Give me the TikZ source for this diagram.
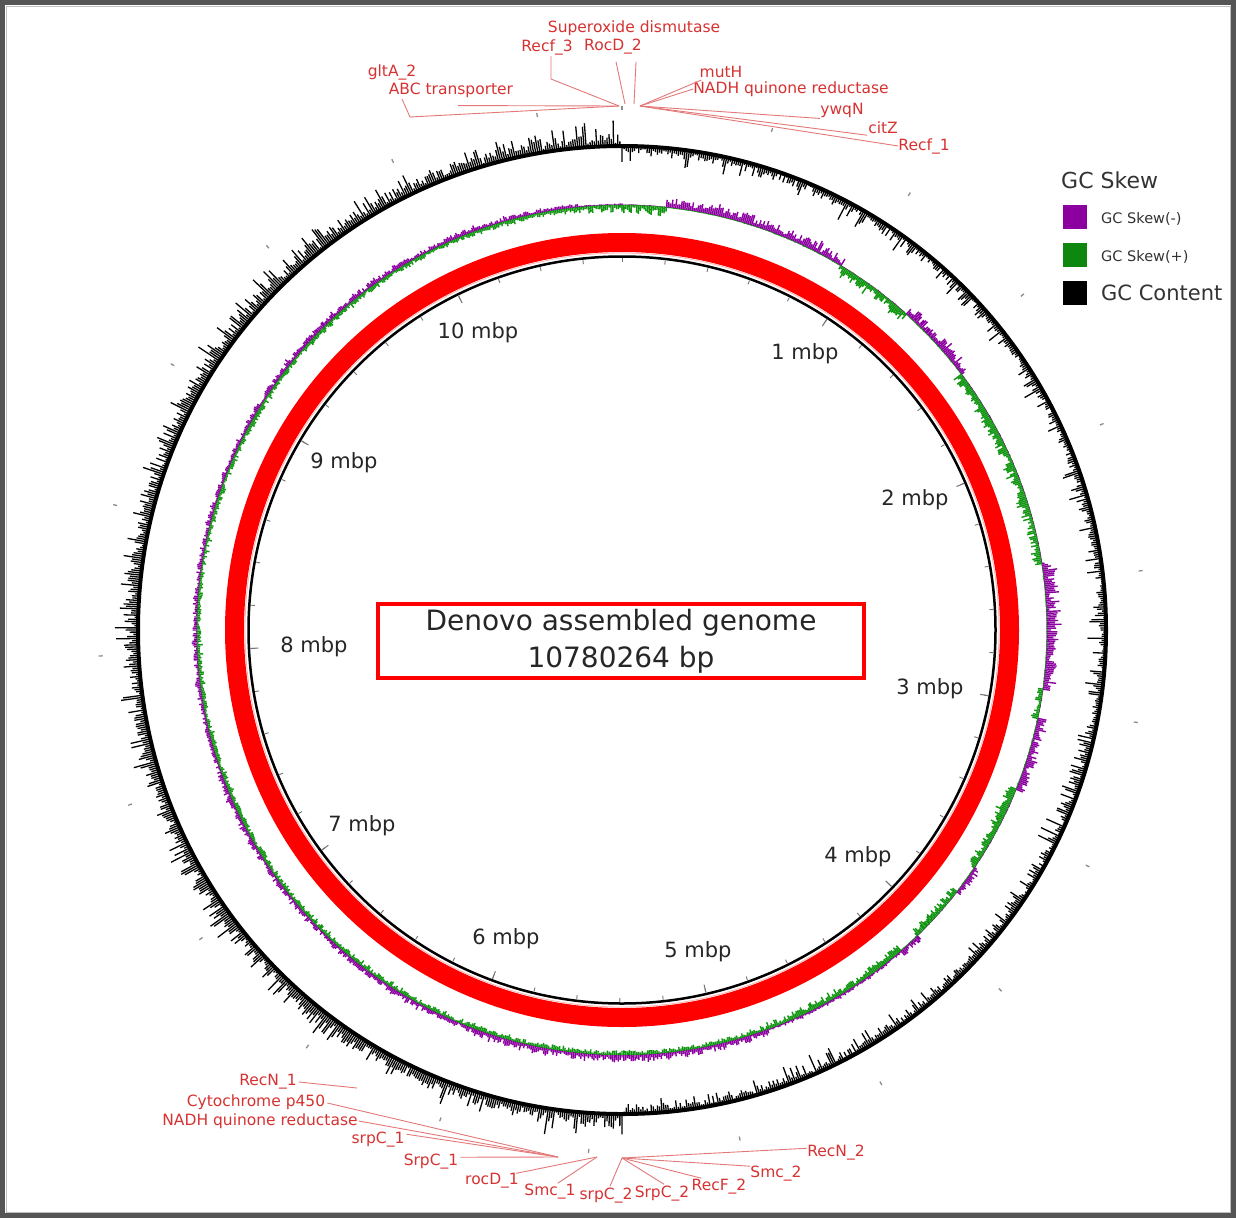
\documentclass[tikz,border=0pt]{standalone}
\usepackage{fontspec}
\setmainfont{DejaVu Sans}
\definecolor{skp}{RGB}{140,0,160}
\definecolor{skg}{RGB}{15,150,15}
\definecolor{lab}{RGB}{215,50,50}
\definecolor{leadc}{RGB}{228,120,120}
\definecolor{frm}{RGB}{85,85,85}
\begin{document}
\begin{tikzpicture}[x=1pt,y=-1pt,
  lbl/.style={font=\fontsize{15.5}{15.5}\selectfont, text=lab, inner sep=0pt},
  leadline/.style={draw=leadc, line width=0.9pt},
  mbp/.style={font=\fontsize{21}{21}\selectfont, text=black!85, inner sep=0pt},
  legsq/.style={minimum width=24pt, minimum height=24pt, inner sep=0pt},
  legtxt/.style={font=\fontsize{14.5}{14.5}\selectfont, text=black!80, inner sep=0pt, anchor=west}]
\useasboundingbox (0,0) rectangle (1236,1218);
\fill[white] (0,0) rectangle (1236,1218);
\draw[frm, line width=5pt] (2.5,2.5) rectangle (1233.5,1215.5);
\draw[black!25, line width=1pt] (6,6) rectangle (1230,1212);
\pgfmathsetseed{11}
\begin{scope}[shift={(622,630)}]
  % outer dots
  \foreach \k in {0,...,21}{
    \pgfmathsetmacro\aa{\k*0.5*33.394-90}
    \draw[black!45, line width=1.3pt] (\aa:520) -- (\aa:524);
  }
  % GC content
  \draw[black, line width=1.3pt] foreach \i [evaluate=\i as \a using {\i/4-90},
     evaluate=\i as \r using {484+(\i<720?-(2+5*rnd+14*rnd^5):(3+9*rnd+16*rnd^4))}] in {0,...,1439} {(\a:484) -- (\a:\r)};
  \draw[black, line width=4pt] (0,0) circle[radius=484];
  % GC skew
  \draw[skg, line width=0.8pt] (0,0) circle[radius=425];
  \foreach \sa/\sb/\pa/\ga in {0/6/1/12, 6/31/14/1, 31/42/1/13, 42/53/14/1, 53/81/1/13,
      81/98/16/1, 98/102/1/10, 102/112/13/1, 112/124/1/12, 124/128/10/1, 128/136/1/11,
      136/139/9/1, 139/160/4/10, 160/200/9/6, 200/250/7/6, 250/300/6/6, 300/340/7/6,
      340/354/6/7, 354/360/2/10}{
    \pgfmathtruncatemacro\nn{(\sb-\sa)/0.25}
    \draw[skp, line width=1.4pt] foreach \j [evaluate=\j as \a using {\sa+\j*0.25-90},
       evaluate=\j as \r using {425+\pa*(0.15+0.55*rnd+0.3*rnd^3)}] in {0,...,\nn} {(\a:425) -- (\a:\r)};
    \draw[skg, line width=1.4pt] foreach \j [evaluate=\j as \a using {\sa+\j*0.25-90},
       evaluate=\j as \r using {425-\ga*(0.15+0.55*rnd+0.3*rnd^3)}] in {0,...,\nn} {(\a:425) -- (\a:\r)};
  }
  % red feature ring
  \draw[red, line width=19pt] (0,0) circle[radius=387.5];
  \draw[red!30, line width=0.8pt] (0,0) circle[radius=377];
  \draw[black, line width=2.5pt] (0,0) circle[radius=373.5];
  % ticks
  \foreach \k in {0,...,53}{
    \pgfmathsetmacro\aa{\k*0.2*33.394-90}
    \draw[black!55, line width=0.9pt] (\aa:372) -- (\aa:368);
  }
  \foreach \k in {1,...,10}{
    \pgfmathsetmacro\aa{\k*33.394-90}
    \draw[black!55, line width=1pt] (\aa:372) -- (\aa:364);
  }
\end{scope}

% mbp labels
\node[mbp] (m1) at (805,354) {1 mbp};
\node[mbp] (m2) at (915,500) {2 mbp};
\node[mbp] (m3) at (930,689) {3 mbp};
\node[mbp] (m4) at (858,857) {4 mbp};
\node[mbp] (m5) at (698,952) {5 mbp};
\node[mbp] (m6) at (506,939) {6 mbp};
\node[mbp] (m7) at (362,826) {7 mbp};
\node[mbp] (m8) at (314,647) {8 mbp};
\node[mbp] (m9) at (344,463) {9 mbp};
\node[mbp] (m10) at (478,333) {10 mbp};

% center box
\node[draw=red, line width=4pt, fill=white, minimum width=486pt, minimum height=74pt, inner sep=0pt] (box) at (621,641) {};
\node[font=\fontsize{28}{28}\selectfont, text=black!85, inner sep=0pt] (t1) at (621,623) {Denovo assembled genome};
\node[font=\fontsize{28}{28}\selectfont, text=black!85, inner sep=0pt] (t2) at (621,660) {10780264 bp};

% legend
\node[font=\fontsize{22}{22}\selectfont, text=black!80, inner sep=0pt, anchor=west] (lt) at (1061,180) {GC Skew};
\node[legsq, fill=skp] (q1) at (1075,217) {};
\node[legsq, fill=skg!90!black] (q2) at (1075,255) {};
\node[legsq, fill=black] (q3) at (1075,293) {};
\node[legtxt] (l1) at (1101,219) {GC Skew(-)};
\node[legtxt] (l2) at (1101,257) {GC Skew(+)};
\node[legtxt, font=\fontsize{21}{21}\selectfont] (l3) at (1101,293) {GC Content};

% top annotation labels
\node[lbl] (sod) at (634,28) {Superoxide dismutase};
\node[lbl] (rf3) at (547,47) {Recf\_3};
\node[lbl] (rd2) at (613,47) {RocD\_2};
\node[lbl] (glt) at (392,72) {gltA\_2};
\node[lbl] (abc) at (451,90) {ABC transporter};
\node[lbl] (mut) at (721,72) {mutH};
\node[lbl] (nq1) at (791,89) {NADH quinone reductase};
\node[lbl] (ywq) at (842,110) {ywqN};
\node[lbl] (cit) at (883,128) {citZ};
\node[lbl] (rf1) at (924,146) {Recf\_1};

\coordinate (fTL) at (619,106);
\coordinate (fTM) at (625,104);
\coordinate (fTS) at (634,104);
\coordinate (fTR) at (640,106);
\coordinate (gb1) at (402,99);
\coordinate (gb2) at (410,117);
\coordinate (rb1) at (551,56);
\coordinate (rb2) at (551,79);
\draw[leadline] (gb1) -- (gb2) -- (fTL);
\draw[leadline] (abc.south) ++(7,8) -- (fTL);
\draw[leadline] (rb1) -- (rb2) -- (fTL);
\draw[leadline] (rd2.south) ++(3,7) -- (fTM);
\draw[leadline] (rd2.south east) ++(-6,7) -- (fTS);
\draw[leadline] (mut.south west) ++(2,2) -- (fTR);
\draw[leadline] (nq1.west) -- (fTR);
\draw[leadline] (ywq.south west) ++(0,1) -- (fTR);
\draw[leadline] (cit.south west) ++(-1,1) -- (fTR);
\draw[leadline] (rf1.west) -- (fTR);

% bottom annotation labels
\node[lbl] (rn1) at (268,1082) {RecN\_1};
\node[lbl] (cyt) at (256,1102) {Cytochrome p450};
\node[lbl] (nq2) at (260,1121) {NADH quinone reductase};
\node[lbl] (sp1) at (378,1140) {srpC\_1};
\node[lbl] (Sp1) at (431,1162) {SrpC\_1};
\node[lbl] (rd1) at (492,1181) {rocD\_1};
\node[lbl] (sm1) at (550,1192) {Smc\_1};
\node[lbl] (sp2) at (606,1196) {srpC\_2};
\node[lbl] (Sp2) at (662,1194) {SrpC\_2};
\node[lbl] (rf2) at (719,1187) {RecF\_2};
\node[lbl] (sm2) at (776,1174) {Smc\_2};
\node[lbl] (rn2) at (836,1153) {RecN\_2};

\coordinate (fB1) at (357,1088);
\coordinate (fBL) at (558,1157);
\coordinate (fBM) at (597,1157);
\coordinate (fBR) at (622,1158);
\draw[leadline] (rn1.east) ++(2,0) -- (fB1);
\draw[leadline] (cyt.east) ++(2,1) -- (fBL);
\draw[leadline] (nq2.east) ++(1,0) -- (fBL);
\draw[leadline] (sp1.north east) ++(2,2) -- (fBL);
\draw[leadline] (Sp1.north east) ++(2,3) -- (fBL);
\draw[leadline] (rd1.north east) ++(-3,0) -- (fBM);
\draw[leadline] (sm1.north east) ++(-18,-1) -- (fBM);
\draw[leadline] (sp2.north) ++(4,-2) -- (fBR);
\draw[leadline] (Sp2.north) ++(2,-2) -- (fBR);
\draw[leadline] (rf2.north west) ++(10,-1) -- (fBR);
\draw[leadline] (sm2.north west) ++(0,0) -- (fBR);
\draw[leadline] (rn2.north west) ++(0,3) -- (fBR);
\end{tikzpicture}
\end{document}
